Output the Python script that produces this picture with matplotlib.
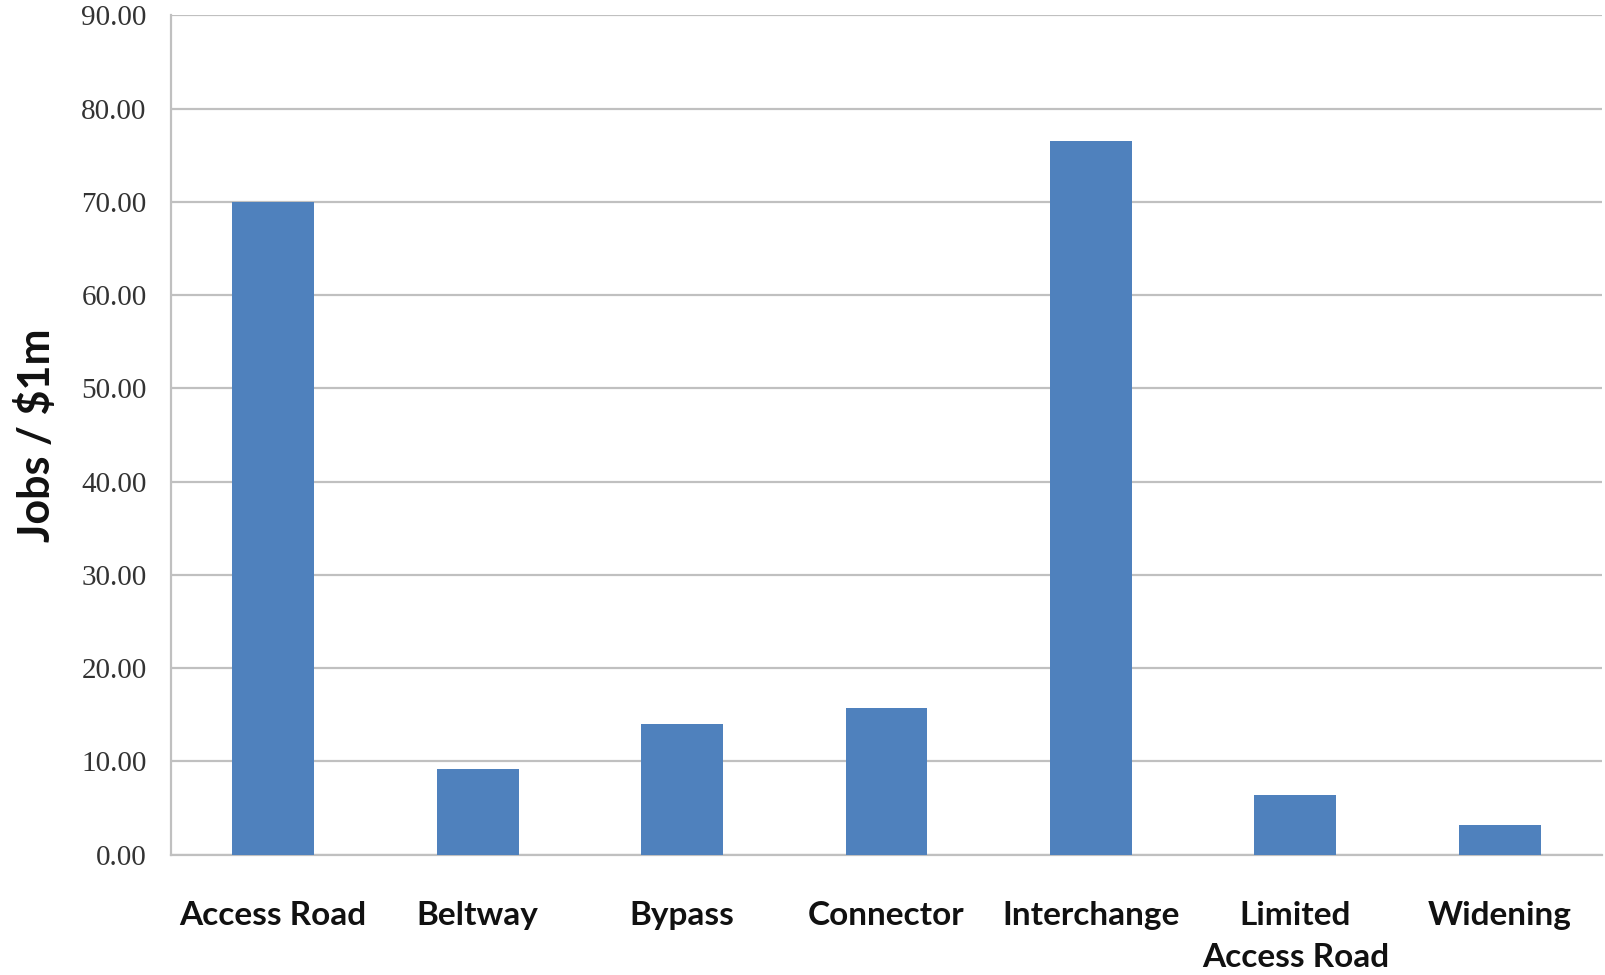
import matplotlib
matplotlib.use("Agg")
import matplotlib.pyplot as plt
import numpy as np

categories = ["Access Road", "Beltway", "Bypass", "Connector", "Interchange",
              "Limited\nAccess Road", "Widening"]
values = [70.0, 9.2, 14.0, 15.7, 76.5, 6.35, 3.2]
yticks = [0, 10, 20, 30, 40, 50, 60, 70, 80, 90]
ylabel = "Jobs / $1m"

W, H = 1605, 975
fig = plt.figure(figsize=(W / 100, H / 100), dpi=100)
ax = fig.add_axes([171 / W, 1 - 854.7 / H, (1602 - 171) / W, (854.7 - 15.4) / H])

x = np.arange(len(categories))
ax.bar(x, values, width=0.4, color="#4F81BD", zorder=3)

ax.set_xlim(-0.5, len(categories) - 0.5)
ax.set_ylim(0, 90)
ax.set_yticks(yticks)
ax.set_yticklabels([f"{v:.2f}" for v in yticks], fontfamily="Liberation Serif",
                   fontsize=21, color="#333333")
ax.yaxis.grid(True, color="#c0c0c0", linewidth=1.6, zorder=0)
ax.set_axisbelow(True)
ax.tick_params(axis="y", length=0, pad=17.5)
ax.tick_params(axis="x", length=0, pad=33)
ax.set_xticks(x)
ax.set_xticklabels(categories, fontfamily="Lato", fontweight="bold",
                   fontsize=24, color="#111111", linespacing=1.55, va="top")

for s in ["top", "right"]:
    ax.spines[s].set_visible(False)
ax.spines["left"].set_color("#c0c0c0")
ax.spines["left"].set_linewidth(1.6)
ax.spines["bottom"].set_color("#c0c0c0")
ax.spines["bottom"].set_linewidth(1.6)

fig.text(36 / W, 1 - 435 / H, ylabel, rotation=90, ha="center", va="center",
         fontfamily="Lato", fontweight="bold", fontsize=31, color="#111111")

fig.savefig("out.png", dpi=100)
